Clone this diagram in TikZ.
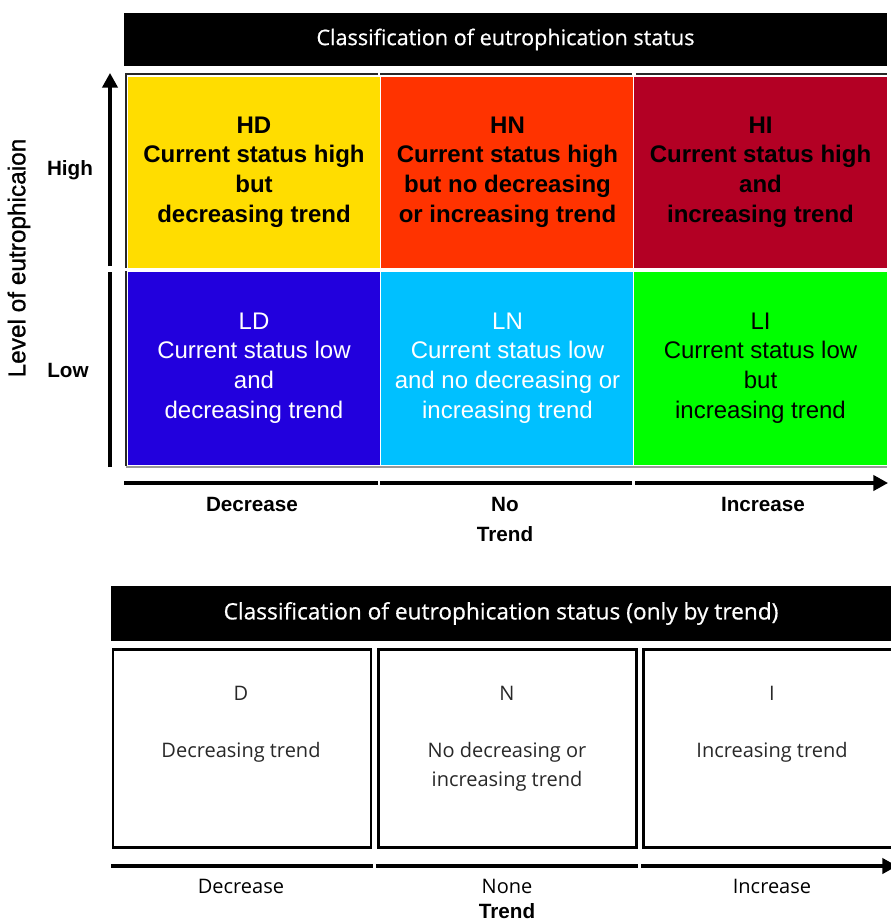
\documentclass[tikz,border=0pt]{standalone}
\usepackage{fontspec}
\setmainfont{Liberation Sans}
\newfontfamily\osans{Open Sans}
\newfontfamily\osansmed{Open Sans}[FakeBold=0.6]
\newfontfamily\arialmed{Liberation Sans}[FakeBold=0.8]
\usetikzlibrary{arrows.meta}
\definecolor{cHD}{RGB}{255,221,0}
\definecolor{cHN}{RGB}{255,51,0}
\definecolor{cHI}{RGB}{179,0,36}
\definecolor{cLD}{RGB}{34,0,221}
\definecolor{cLN}{RGB}{0,192,255}
\definecolor{cLI}{RGB}{0,255,0}
\definecolor{txtgrey}{RGB}{40,40,40}
\tikzset{
  cell/.style={draw=white, line width=0.75pt, inner sep=0pt, align=center,
    minimum width=190pt, font=\fontsize{18}{22.3}\selectfont},
  hicell/.style={cell, minimum height=144pt, font=\fontsize{18}{22.3}\selectfont\bfseries},
  locell/.style={cell, minimum height=145.5pt},
  header/.style={fill=black, text=white, inner sep=0pt, font=\osansmed\fontsize{16.2}{19}\selectfont},
  tbox/.style={draw=black, line width=1.6pt, fill=white, inner sep=0pt, minimum width=193.5pt, minimum height=148.5pt},
  btext/.style={text=txtgrey, font=\osans\fontsize{15}{22}\selectfont, align=center},
  axlab/.style={font=\fontsize{15.5}{22.5}\selectfont\bfseries, align=center},
  axline/.style={line width=2.3pt, black},
  axarrow/.style={axline, -{Triangle[length=11pt,width=11.5pt]}},
  frame/.style={line width=1.2pt, black!85},
}
\begin{document}
\begin{tikzpicture}[x=0.75pt,y=-0.75pt]
\useasboundingbox (0,0) rectangle (891,921);
\fill[white] (0,0) rectangle (891,921);
% ---------- top header
\node[header, minimum width=572.25pt, minimum height=39.75pt] (h1) at (505.5,39.5) {Classification of eutrophication status};
% frame lines
\draw[frame] (126,268) -- (126,74) -- (378,74);
\draw[frame] (380,74) -- (632,74);
\draw[frame] (636,74) -- (887,74);
\draw[frame] (126,271) -- (126,466);
\draw[line width=1.5pt, black!40] (126,466.5) -- (887,466.5);
% ---------- cells
\node[hicell, fill=cHD] (hd) at (254,172) {\raisebox{-1.5pt}{}HD\\Current status high\\but\\decreasing trend};
\node[hicell, fill=cHN] (hn) at (507.5,172) {HN\\Current status high\\but no decreasing\\or increasing trend};
\node[hicell, fill=cHI] (hi) at (760.5,172) {HI\\Current status high\\and\\increasing trend};
\node[locell, fill=cLD, text=white] (ld) at (254,368) {LD\\Current status low\\and\\decreasing trend};
\node[locell, fill=cLN, text=white] (ln) at (507.5,368) {LN\\Current status low\\and no decreasing or\\increasing trend};
\node[locell, fill=cLI] (li) at (760.5,368) {LI\\Current status low\\but\\increasing trend};
% ---------- vertical axis
\coordinate (v0) at (110,467);
\coordinate (v1) at (110,272);
\coordinate (v2) at (110,266);
\coordinate (v3) at (110,73);
\draw[axline] (v0) -- (v1);
\draw[axarrow] (v2) -- (v3);
\node[axlab] (high) at (70,170) {High};
\node[axlab] (low) at (68,370) {Low};
\node[rotate=90, font=\arialmed\fontsize{18.3}{20}\selectfont] (lev) at (19,258) {Level of eutrophicaion};
% ---------- horizontal axis
\coordinate (a0) at (124,483);
\coordinate (a1) at (378,483);
\coordinate (a2) at (380,483);
\coordinate (a3) at (632,483);
\coordinate (a4) at (635,483);
\coordinate (a5) at (888,483);
\draw[axline] (a0) -- (a1);
\draw[axline] (a2) -- (a3);
\draw[axarrow] (a4) -- (a5);
\node[axlab] (dec) at (252,504) {Decrease};
\node[axlab] (not) at (505,519) {No\\Trend};
\node[axlab] (inc) at (763,504) {Increase};
% ---------- bottom header
\node[header, minimum width=585pt, minimum height=41.25pt, font=\osansmed\fontsize{17}{19}\selectfont] (h2) at (501,613.5) {Classification of eutrophication status (only by trend)};
% ---------- bottom boxes
\node[tbox] (bd) at (242,748.5) {};
\node[tbox] (bn) at (507.5,748.5) {};
\node[tbox] (bi) at (772.5,748.5) {};
\node[btext] (dt) at (241,693) {D};
\node[btext] (dd) at (241,752) {Decreasing trend};
\node[btext] (nt) at (507,693) {N};
\node[btext] (nd) at (507,766.5) {No decreasing or\\increasing trend};
\node[btext] (it) at (772,693) {I};
\node[btext] (id) at (772,752) {Increasing trend};
% ---------- bottom axis
\coordinate (b0) at (111,866);
\coordinate (b1) at (373,866);
\coordinate (b2) at (376,866);
\coordinate (b3) at (638,866);
\coordinate (b4) at (641,866);
\coordinate (b5) at (897,866);
\draw[axline] (b0) -- (b1);
\draw[axline] (b2) -- (b3);
\draw[axarrow] (b4) -- (b5);
\node[btext, text=black] (bdec) at (241,886) {Decrease};
\node[btext, text=black] (bnon) at (507,886) {None};
\node[axlab, font=\fontsize{15.5}{18}\selectfont\bfseries] (btr) at (507,911) {Trend};
\node[btext, text=black] (binc) at (772,886) {Increase};
\end{tikzpicture}
\end{document}
